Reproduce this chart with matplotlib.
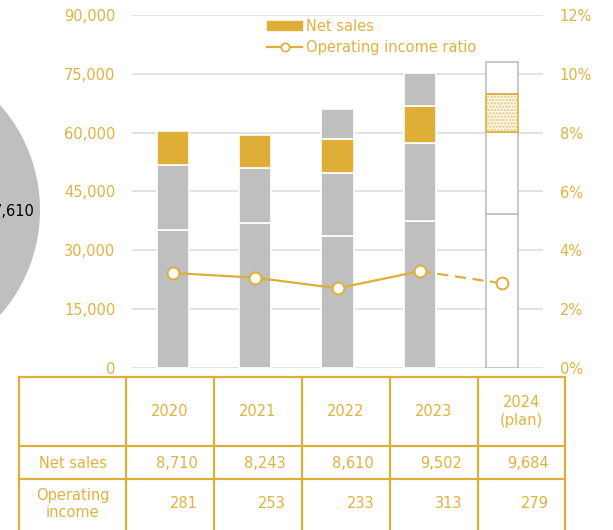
import matplotlib
matplotlib.use('Agg')
import matplotlib.pyplot as plt
from matplotlib.patches import Patch, Circle
from matplotlib.lines import Line2D
import numpy as np

# ---------------- data ----------------
years = ['2020', '2021', '2022', '2023', '2024\n(plan)']
seg_base = [35200, 37000, 33700, 37500, 39300]
seg_mid = [16600, 14100, 16100, 19900, 20900]
seg_sales = [8710, 8243, 8610, 9502, 9684]
seg_top = [0, 0, 7600, 8300, 8100]
ratio = [3.23, 3.07, 2.71, 3.29, 2.88]
is_plan = [False, False, False, False, True]
row_labels = ['Net sales', 'Operating\nincome']
net_sales = ['8,710', '8,243', '8,610', '9,502', '9,684']
op_income = ['281', '253', '233', '313', '279']
left_ticks = [0, 15000, 30000, 45000, 60000, 75000, 90000]
right_ticks = [0, 2, 4, 6, 8, 10, 12]
bubble_label = '7,610'
legend_labels = ['Net sales', 'Operating income ratio']

# ---------------- style ----------------
GOLD = '#DFAE36'
GOLD_LIGHT = '#E9C46A'
TXT = '#E2B23F'
GRAY = '#BFBFBF'
GRID = '#DADADA'
FS = 10.5
plt.rcParams['hatch.linewidth'] = 1.3

W, H = 613, 530
fig = plt.figure(figsize=(W / 100, H / 100), dpi=100)


def px(x0, y0, x1, y1):
    return [x0 / W, 1 - y1 / H, (x1 - x0) / W, (y1 - y0) / H]


# overlay in pixel coordinates (bubble + table)
tab = fig.add_axes([0, 0, 1, 1])
tab.set_xlim(0, W)
tab.set_ylim(H, 0)
tab.axis('off')
tab.add_patch(Circle((-118, 210), 158, color=GRAY, lw=0))
tab.text(35, 212, bubble_label, ha='right', va='center', fontsize=FS, color='black')

# ---------------- chart ----------------
ax = fig.add_axes(px(132, 15, 543, 368))
x = np.arange(len(years))
bw = 0.39
segs = [seg_base, seg_mid, seg_sales, seg_top]
bottoms = np.zeros(len(years))
for k, seg in enumerate(segs):
    seg = np.array(seg, dtype=float)
    for i in range(len(years)):
        if seg[i] <= 0:
            continue
        if not is_plan[i]:
            ax.bar(x[i], seg[i], bw, bottom=bottoms[i],
                   color=GOLD if k == 2 else GRAY, edgecolor='white', lw=1.2, zorder=3)
        else:
            if k == 2:
                ax.bar(x[i], seg[i], bw, bottom=bottoms[i], color='white',
                       edgecolor=GOLD_LIGHT, hatch='.....', lw=0, zorder=3)
                ax.bar(x[i], seg[i], bw, bottom=bottoms[i], fill=False,
                       edgecolor=GOLD, lw=1.2, zorder=4)
            else:
                ax.bar(x[i], seg[i], bw, bottom=bottoms[i], color='white',
                       edgecolor=GRAY, lw=1.2, zorder=3)
    bottoms += seg

ax.set_xlim(-0.5, len(years) - 0.5)
ax.set_ylim(0, 90000)
ax.set_yticks(left_ticks)
ax.set_yticklabels([f'{v:,}' for v in left_ticks])
ax.set_xticks([])
ax.grid(axis='y', color=GRID, lw=1.1)
ax.set_axisbelow(True)
ax.tick_params(length=0, pad=12, labelcolor=TXT, labelsize=FS)
for s in ax.spines.values():
    s.set_visible(False)

ax2 = ax.twinx()
ax2.set_ylim(0, 12)
ax2.set_yticks(right_ticks)
ax2.set_yticklabels([f'{v}%' for v in right_ticks])
ax2.tick_params(length=0, pad=12, labelcolor=TXT, labelsize=FS)
for s in ax2.spines.values():
    s.set_visible(False)
ax2.plot(x[:4], ratio[:4], '-', color=GOLD, lw=1.6, zorder=5)
ax2.plot(x[3:], ratio[3:], '--', color=GOLD, lw=1.6, dashes=(5, 3), zorder=5)
ax2.plot(x, ratio, 'o', ls='none', mfc='white', mec=GOLD, ms=8.5, mew=1.4, zorder=6)

handles = [Patch(color=GOLD),
           Line2D([0], [0], color=GOLD, lw=1.6, marker='o', mfc='white', mec=GOLD, ms=6, mew=1.2)]
fig.legend(handles, legend_labels, loc='upper left', bbox_to_anchor=(267 / W, 1 - 19 / H),
           frameon=False, fontsize=FS, labelcolor=TXT, handlelength=2.4,
           handleheight=0.6, handletextpad=0.3, labelspacing=0.4, borderpad=0,
           borderaxespad=0)

# ---------------- table ----------------
col_x = [19, 126, 214, 302, 390, 478, 565]
row_y = [377, 446, 479, 536]
for yy in row_y[:-1]:
    tab.plot([col_x[0], col_x[-1]], [yy, yy], color=GOLD, lw=1.6, solid_capstyle='projecting')
for xx in col_x:
    tab.plot([xx, xx], [row_y[0], row_y[-1]], color=GOLD, lw=1.6, solid_capstyle='projecting')

for i, yr in enumerate(years):
    cx = (col_x[i + 1] + col_x[i + 2]) / 2
    tab.text(cx, (row_y[0] + row_y[1]) / 2, yr, ha='center', va='center',
             fontsize=FS, color=TXT, linespacing=1.2)
    tab.text(col_x[i + 2] - 16, 463, net_sales[i], ha='right', va='center',
             fontsize=FS, color=TXT)
    tab.text(col_x[i + 2] - 16, 504, op_income[i], ha='right', va='center',
             fontsize=FS, color=TXT)
c0 = (col_x[0] + col_x[1]) / 2
tab.text(c0, 463, row_labels[0], ha='center', va='center', fontsize=FS, color=TXT)
tab.text(c0, 504, row_labels[1], ha='center', va='center', fontsize=FS, color=TXT,
         linespacing=1.2)

fig.savefig('out.png', dpi=100)
